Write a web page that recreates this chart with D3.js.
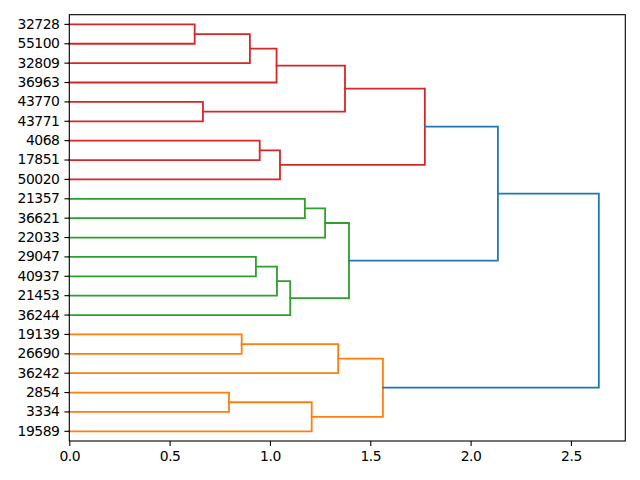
<!DOCTYPE html>
<html><head><meta charset="utf-8">
<script src="https://cdn.jsdelivr.net/npm/d3@7"></script>
<style>
body{margin:0;background:#fff;}
svg{display:block;font-family:"DejaVu Sans",sans-serif;}
.axis text{font-size:13.9px;fill:#000;font-family:"DejaVu Sans",sans-serif;letter-spacing:-0.45px;}
.axis path,.axis line{stroke:#000;stroke-width:1.1px;}
</style></head><body>
<script>
const leafLabels = ["32728","55100","32809","36963","43770","43771","4068","17851","50020",
  "21357","36621","22033","29047","40937","21453","36244","19139","26690","36242","2854","3334","19589"];
// merges: node id = leafLabels.length + index
const mergeLeft   = [0, 22, 23, 4, 24, 6, 27, 26, 9, 30, 12, 32, 33, 31, 29, 16, 37, 19, 39, 38, 36];
const mergeRight  = [1, 2, 3, 5, 25, 7, 8, 28, 10, 11, 13, 14, 15, 34, 35, 17, 18, 20, 21, 40, 41];
const mergeHeight = [0.625, 0.900, 1.033, 0.666, 1.374, 0.949, 1.050, 1.772, 1.174, 1.275, 0.930, 1.035, 1.101, 1.394, 2.136, 0.859, 1.340, 0.796, 1.208, 1.563, 2.639];
const linkColor   = ["r","r","r","r","r","r","r","r","g","g","g","g","g","g","b","o","o","o","o","o","b"];
const xTicks = [0, 0.5, 1.0, 1.5, 2.0, 2.5];
const palette = {r:"#d62728", g:"#2ca02c", o:"#ff7f0e", b:"#1f77b4"};

const W = 640, H = 480;
const L = 69.3, R = 625.3, T = 14.7, B = 441;
const svg = d3.select("body").append("svg").attr("width", W).attr("height", H);

const x = d3.scaleLinear().domain([0, d3.max(mergeHeight) * 1.05]).range([L, R]);
const y = d3.scaleBand().domain(leafLabels).range([T, B]);

const nodeY = leafLabels.map(l => y(l) + y.bandwidth() / 2);
const nodeH = leafLabels.map(() => 0);
mergeLeft.forEach((a, i) => {
  const b = mergeRight[i];
  nodeY.push((nodeY[a] + nodeY[b]) / 2);
  nodeH.push(mergeHeight[i]);
});

const g = svg.append("g");
mergeLeft.forEach((a, i) => {
  const b = mergeRight[i];
  const p = d3.path();
  p.moveTo(x(nodeH[a]), nodeY[a]);
  p.lineTo(x(mergeHeight[i]), nodeY[a]);
  p.lineTo(x(mergeHeight[i]), nodeY[b]);
  p.lineTo(x(nodeH[b]), nodeY[b]);
  g.append("path").attr("d", p.toString())
    .attr("fill", "none").attr("stroke", palette[linkColor[i]])
    .attr("stroke-width", 1.8).attr("stroke-linejoin", "miter").attr("stroke-linecap", "square");
});

svg.append("rect").attr("x", L).attr("y", T).attr("width", R - L).attr("height", B - T)
  .attr("fill", "none").attr("stroke", "#000").attr("stroke-width", 1.1);

const xa = svg.append("g").attr("class", "axis").attr("transform", `translate(0,${B})`)
  .call(d3.axisBottom(x).tickValues(xTicks).tickFormat(d3.format(".1f")).tickSize(4.9).tickPadding(4.9));
xa.select(".domain").remove();
xa.selectAll("text").attr("dy", "0.75em").attr("y", 9.8);

const ya = svg.append("g").attr("class", "axis").attr("transform", `translate(${L},0)`)
  .call(d3.axisLeft(y).tickSize(4.9).tickPadding(4.9));
ya.select(".domain").remove();
</script>
</body></html>
